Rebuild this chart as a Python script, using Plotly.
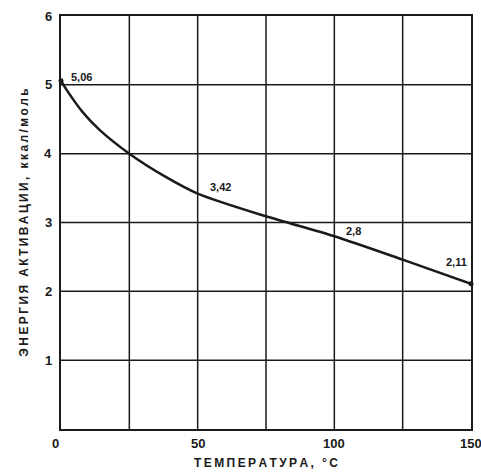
import plotly.graph_objects as go

# Activation energy vs temperature
temperature = [0, 2, 8, 14, 25, 38, 50, 75, 100, 125, 150]
energy = [5.06, 4.93, 4.6, 4.35, 4.0, 3.67, 3.42, 3.09, 2.8, 2.46, 2.11]

# Labelled points
label_t = [0, 50, 100, 150]
label_e = [5.06, 3.42, 2.8, 2.11]
label_text = ["5,06", "3,42", "2,8", "2,11"]

x_ticks = [0, 50, 100, 150]
y_ticks = [1, 2, 3, 4, 5, 6]

FONT = "Liberation Sans"
INK = "#1a1a1a"


def spaced(s, sep="\u2009"):
    return sep.join(s)


fig = go.Figure()

fig.add_trace(go.Scatter(
    x=temperature, y=energy, mode="lines",
    line=dict(color=INK, width=2.5, shape="spline", smoothing=0.8),
    hoverinfo="skip", showlegend=False,
))
fig.add_trace(go.Scatter(
    x=[temperature[0], temperature[-1]], y=[energy[0], energy[-1]],
    mode="markers", marker=dict(color=INK, size=5),
    hoverinfo="skip", showlegend=False, cliponaxis=False,
))

offsets = [(8, 4), (10, 7), (10, 5), (-2, 22)]
anchors = ["left", "left", "left", "right"]
for t, e, txt, (dx, dy), anc in zip(label_t, label_e, label_text, offsets, anchors):
    fig.add_annotation(
        x=t, y=e, text=f"<b>{txt}</b>", showarrow=False,
        xanchor=anc, yanchor="middle", xshift=dx, yshift=dy,
        font=dict(family=FONT, size=11, color=INK),
    )

# Y tick labels
for v in y_ticks:
    fig.add_annotation(
        x=0, y=v, xref="paper", yref="y", text=f"<b>{v}</b>",
        showarrow=False, xanchor="right", yanchor="middle", xshift=-7,
        font=dict(family=FONT, size=13, color=INK),
    )

# X tick labels (origin label sits just left of the corner)
for v in x_ticks:
    fig.add_annotation(
        x=v, y=0, xref="x", yref="paper", text=f"<b>{v}</b>",
        showarrow=False, xanchor="center", yanchor="top",
        yshift=-5, xshift=-6 if v == 0 else 0,
        font=dict(family=FONT, size=13, color=INK),
    )

fig.update_xaxes(
    range=[0, 150], tickvals=x_ticks, showticklabels=False, automargin=False,
    ticks="", showgrid=False, zeroline=False,
    showline=True, linecolor=INK, linewidth=1.5, mirror=True,
    title=dict(text="<b>" + spaced("ТЕМПЕРАТУРА, °С") + "</b>",
               font=dict(family=FONT, size=12, color=INK), standoff=29),
)
fig.update_yaxes(
    range=[0, 6], tickvals=y_ticks, showticklabels=False, automargin=False,
    ticks="", showgrid=False, zeroline=False,
    showline=True, linecolor=INK, linewidth=1.5, mirror=True,
    title=dict(text="<b>" + spaced("ЭНЕРГИЯ АКТИВАЦИИ, ккал/моль") + "</b>",
               font=dict(family=FONT, size=12, color=INK), standoff=28),
)

# Grid lines every 25 °C and every 1 kcal/mol
for gx in range(25, 150, 25):
    fig.add_shape(type="line", x0=gx, x1=gx, y0=0, y1=6, xref="x", yref="y",
                  line=dict(color=INK, width=1.5), layer="below")
for gy in range(1, 6):
    fig.add_shape(type="line", x0=0, x1=150, y0=gy, y1=gy, xref="x", yref="y",
                  line=dict(color=INK, width=1.5), layer="below")

fig.update_layout(
    width=481, height=473,
    margin=dict(l=61, r=10, t=16, b=44),
    paper_bgcolor="white", plot_bgcolor="white",
    font=dict(family=FONT, color=INK),
)

fig.write_html("out.html")
